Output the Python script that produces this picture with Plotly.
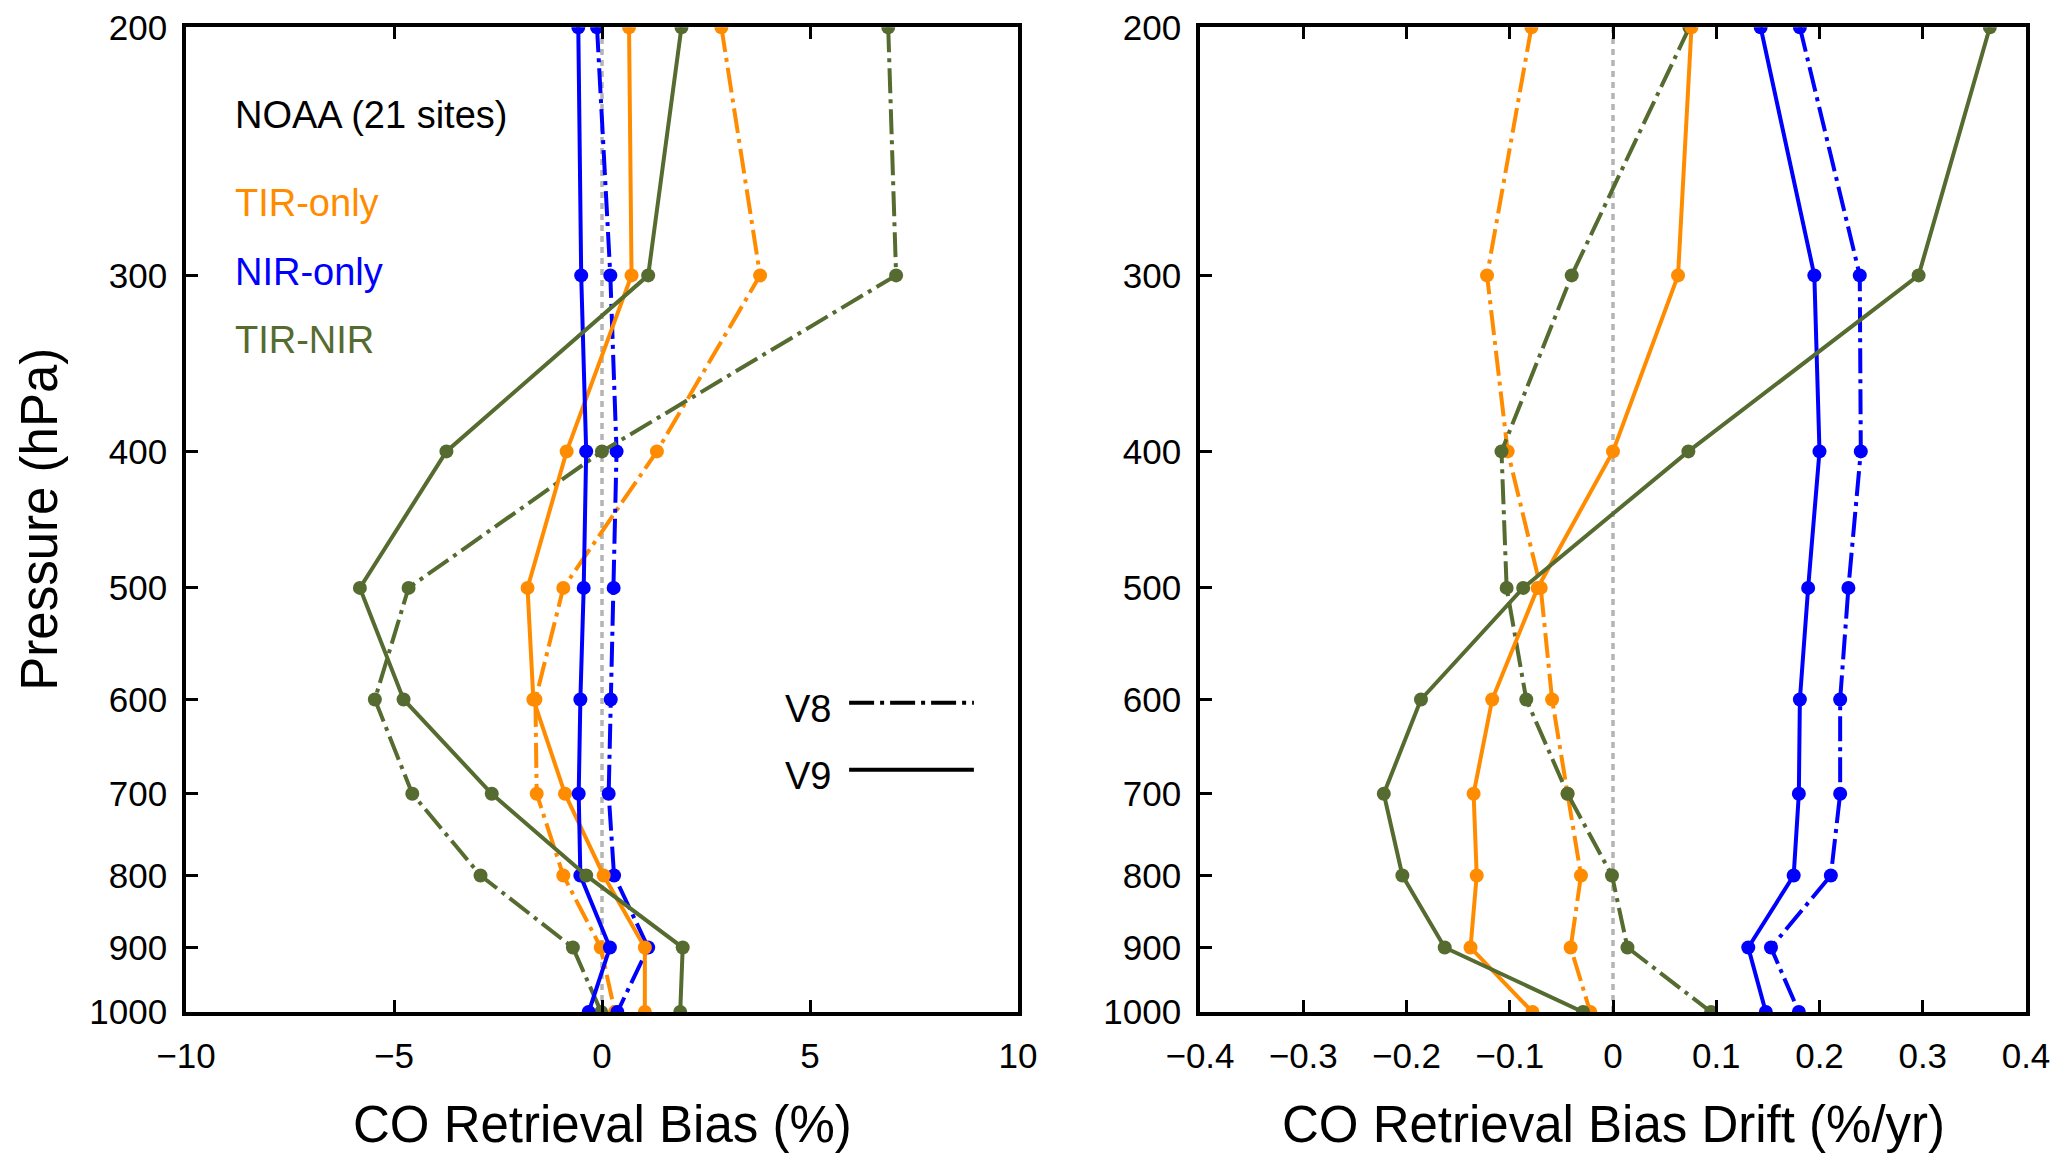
import plotly.graph_objects as go

# Pressure levels (hPa)
pressure = [200, 300, 400, 500, 600, 700, 800, 900, 1000]
pressure_ticks = [200, 300, 400, 500, 600, 700, 800, 900, 1000]

# CO retrieval bias (%) - left panel
bias_tir_v8 = [2.87, 3.80, 1.32, -0.93, -1.60, -1.57, -0.93, -0.03, 0.31]
bias_tir_v9 = [0.65, 0.71, -0.85, -1.79, -1.65, -0.89, 0.04, 1.03, 1.03]
bias_nir_v8 = [-0.12, 0.20, 0.35, 0.28, 0.21, 0.16, 0.29, 1.11, 0.37]
bias_nir_v9 = [-0.57, -0.50, -0.38, -0.44, -0.52, -0.56, -0.52, 0.19, -0.32]
bias_tn_v8 = [6.88, 7.07, 0.0, -4.65, -5.46, -4.56, -2.92, -0.70, -0.02]
bias_tn_v9 = [1.91, 1.11, -3.74, -5.82, -4.77, -2.65, -0.38, 1.94, 1.88]

# CO retrieval bias drift (%/yr) - right panel
drift_tir_v8 = [-0.079, -0.122, -0.102, -0.070, -0.059, -0.044, -0.031, -0.041, -0.022]
drift_tir_v9 = [0.076, 0.063, 0.0, -0.073, -0.117, -0.135, -0.132, -0.138, -0.078]
drift_nir_v8 = [0.181, 0.239, 0.240, 0.228, 0.220, 0.220, 0.211, 0.153, 0.180]
drift_nir_v9 = [0.143, 0.195, 0.200, 0.189, 0.181, 0.180, 0.175, 0.131, 0.148]
drift_tn_v8 = [0.074, -0.040, -0.108, -0.103, -0.084, -0.044, -0.001, 0.014, 0.095]
drift_tn_v9 = [0.365, 0.296, 0.073, -0.087, -0.186, -0.222, -0.204, -0.163, -0.029]

ORANGE = '#FF8C00'
BLUE = '#0000FF'
GREEN = '#556B2F'
DASHDOT = '25px,6px,4px,6px'
FONT = 'Liberation Sans, Arial, sans-serif'
LW = 4

# page is 2067x1167, the browser adds an 8px body margin
PW, PH, OFF = 2067, 1167, 8
W, H = PW - 2 * OFF, PH - 2 * OFF


def fx(px):
    return (px - OFF) / W


def fy(py):
    return 1 - (py - OFF) / H


fig = go.Figure()


def add_profile(xvals, color, dash, xa, ya):
    fig.add_trace(go.Scatter(
        x=xvals, y=pressure, mode='lines+markers', xaxis=xa, yaxis=ya,
        line=dict(color=color, width=LW, dash=dash),
        marker=dict(color=color, size=14, symbol='circle'),
        showlegend=False))


# left panel
add_profile(bias_tir_v8, ORANGE, DASHDOT, 'x', 'y')
add_profile(bias_nir_v8, BLUE, DASHDOT, 'x', 'y')
add_profile(bias_tn_v8, GREEN, DASHDOT, 'x', 'y')
add_profile(bias_tir_v9, ORANGE, 'solid', 'x', 'y')
add_profile(bias_nir_v9, BLUE, 'solid', 'x', 'y')
add_profile(bias_tn_v9, GREEN, 'solid', 'x', 'y')

# right panel
add_profile(drift_tir_v8, ORANGE, DASHDOT, 'x2', 'y2')
add_profile(drift_nir_v8, BLUE, DASHDOT, 'x2', 'y2')
add_profile(drift_tn_v8, GREEN, DASHDOT, 'x2', 'y2')
add_profile(drift_tir_v9, ORANGE, 'solid', 'x2', 'y2')
add_profile(drift_nir_v9, BLUE, 'solid', 'x2', 'y2')
add_profile(drift_tn_v9, GREEN, 'solid', 'x2', 'y2')

left_dom = [fx(186), fx(1018)]
right_dom = [fx(1200), fx(2026)]
y_dom = [fy(1012), fy(27.3)]

axis_common = dict(showline=True, linewidth=3.6, linecolor='black', ticks='inside',
                   ticklen=12, tickwidth=3, tickcolor='black', showgrid=False,
                   zeroline=False, automargin=False, ticklabeloverflow='allow',
                   tickfont=dict(family=FONT, size=35, color='black'))

fig.update_layout(
    width=W, height=H,
    margin=dict(l=0, r=0, t=0, b=0, autoexpand=False),
    plot_bgcolor='white', paper_bgcolor='white',
    font=dict(family=FONT, color='black'),
    xaxis=dict(domain=left_dom, range=[-10, 10], tickvals=[-10, -5, 0, 5, 10],
               mirror='ticks', anchor='y', ticklabelstandoff=10, **axis_common),
    yaxis=dict(domain=y_dom, type='log', range=[3, 2.30103], tickvals=pressure_ticks,
               ticktext=[str(p) for p in pressure_ticks], mirror=True, anchor='x',
               ticklabelstandoff=8, **axis_common),
    xaxis2=dict(domain=right_dom, range=[-0.4, 0.4], dtick=0.1, tick0=0,
                mirror='ticks', anchor='y2', ticklabelstandoff=10, **axis_common),
    yaxis2=dict(domain=y_dom, type='log', range=[3, 2.30103], tickvals=pressure_ticks,
                ticktext=[str(p) for p in pressure_ticks], mirror=True, anchor='x2',
                ticklabelstandoff=8, **axis_common),
)

# zero reference lines
for xr, yr in [('x', 'y domain'), ('x2', 'y2 domain')]:
    fig.add_shape(type='line', xref=xr, yref=yr, x0=0, x1=0, y0=0, y1=1,
                  line=dict(color='#B4B4B4', width=3.5, dash='6px,5px'), layer='below')

# labels in left panel
labels = [('NOAA (21 sites)', 'black', 0.911), ('TIR-only', ORANGE, 0.822),
          ('NIR-only', BLUE, 0.751), ('TIR-NIR', GREEN, 0.682)]
for txt, col, yy in labels:
    fig.add_annotation(text=txt, xref='x domain', yref='y domain', x=0.056, y=yy,
                       xanchor='left', yanchor='middle', showarrow=False,
                       font=dict(family=FONT, size=38, color=col))

# V8 / V9 line-style key
for txt, dash, yy in [('V8', DASHDOT, 0.314), ('V9', 'solid', 0.246)]:
    fig.add_annotation(text=txt, xref='x domain', yref='y domain', x=0.778, y=yy - 0.006,
                       xanchor='right', yanchor='middle', showarrow=False,
                       font=dict(family=FONT, size=38, color='black'))
    fig.add_shape(type='line', xref='x domain', yref='y domain', x0=0.797, x1=0.947,
                  y0=yy, y1=yy, line=dict(color='black', width=LW, dash=dash))

# axis titles
fig.add_annotation(text='CO Retrieval Bias (%)', xref='paper', yref='paper',
                   x=sum(left_dom) / 2, y=fy(1124), xanchor='center', yanchor='middle',
                   showarrow=False, font=dict(family=FONT, size=51, color='black'))
fig.add_annotation(text='CO Retrieval Bias Drift (%/yr)', xref='paper', yref='paper',
                   x=sum(right_dom) / 2, y=fy(1124), xanchor='center', yanchor='middle',
                   showarrow=False, font=dict(family=FONT, size=51, color='black'))
fig.add_annotation(text='Pressure (hPa)', xref='paper', yref='paper', textangle=-90,
                   x=fx(40), y=sum(y_dom) / 2, xanchor='center', yanchor='middle',
                   showarrow=False, font=dict(family=FONT, size=51, color='black'))

fig.write_html('out.html')
